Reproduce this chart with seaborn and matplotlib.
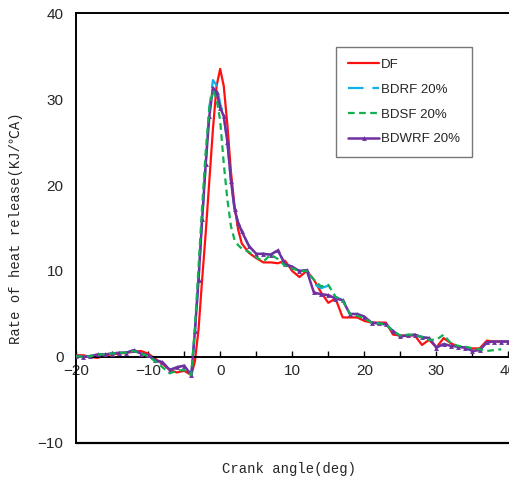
import numpy as np
import pandas as pd
import seaborn as sns
import matplotlib.pyplot as plt
from matplotlib.ticker import MultipleLocator

angle = [-20, -19, -18, -17, -16, -15, -14, -13, -12, -11, -10, -9, -8, -7, -6, -5, -4,
         -3.5, -3, -2.5, -2, -1.5, -1, -0.5, 0, 0.5, 1, 1.5, 2, 2.5, 3,
         4, 5, 6, 7, 8, 9, 10, 11, 12, 13, 14, 15, 16, 17, 18, 19, 20, 21, 22,
         23, 24, 25, 26, 27, 28, 29, 30, 31, 32, 33, 34, 35, 36, 37, 38, 39, 40]

df_hr = [0.2, 0.2, 0.0, -0.1, 0.2, 0.3, 0.4, 0.5, 0.6, 0.7, 0.4, -0.2, -0.8, -1.5, -1.8, -1.6, -2.1,
         -0.5, 3.2, 9.0, 14.5, 20.5, 26.5, 31.5, 33.5, 31.5, 27.0, 21.5, 17.5, 14.8, 13.2,
         12.1, 11.5, 11.0, 11.0, 10.9, 11.2, 10.0, 9.3, 10.0, 9.0, 7.5, 6.3, 6.8, 4.6, 4.6, 4.6, 4.2, 4.0, 4.0,
         4.0, 2.6, 2.5, 2.5, 2.5, 1.4, 2.0, 1.1, 2.2, 1.6, 1.2, 1.1, 1.0, 1.0, 1.9, 1.8, 1.8, 1.8]

bdrf = [0.1, 0.0, 0.1, 0.3, 0.3, 0.4, 0.5, 0.5, 0.8, 0.4, 0.2, -0.4, -0.6, -1.5, -1.2, -1.0, -2.1,
        3.0, 9.0, 16.0, 22.5, 29.0, 32.2, 31.6, 29.5, 28.0, 25.0, 20.5, 17.2, 15.6, 14.6,
        12.9, 12.0, 12.0, 11.9, 12.4, 10.8, 10.5, 10.0, 10.1, 8.5, 8.0, 8.3, 7.0, 6.6, 5.0, 5.0, 4.7, 4.0, 3.9,
        3.8, 3.0, 2.4, 2.5, 2.6, 2.3, 2.2, 1.1, 1.5, 1.3, 1.2, 1.1, 0.7, 0.8, 1.7, 1.8, 1.8, 1.8]

bdsf = [0.1, 0.0, 0.1, 0.3, 0.3, 0.4, 0.5, 0.5, 0.7, 0.4, 0.1, -0.5, -1.2, -1.9, -1.6, -1.5, -2.1,
        3.5, 10.5, 17.5, 24.0, 29.0, 31.0, 30.0, 27.5, 22.5, 18.3, 15.2, 13.6, 13.0, 12.6,
        12.2, 11.6, 11.1, 11.9, 11.4, 10.6, 10.3, 10.0, 10.0, 9.0, 8.2, 8.4, 7.0, 6.6, 5.0, 4.8, 4.5, 4.0, 3.9,
        3.8, 3.0, 2.5, 2.6, 2.6, 2.3, 2.0, 2.0, 2.6, 1.6, 1.3, 1.2, 1.0, 0.9, 0.7, 0.8, 0.9, np.nan]

bdwrf = [0.1, 0.0, 0.1, 0.3, 0.3, 0.4, 0.5, 0.5, 0.8, 0.4, 0.2, -0.4, -0.6, -1.5, -1.2, -1.0, -2.1,
         3.0, 9.0, 16.0, 22.5, 28.0, 31.3, 30.8, 29.0, 28.0, 25.0, 20.5, 17.2, 15.6, 14.6,
         12.9, 12.0, 12.0, 11.9, 12.4, 10.8, 10.5, 10.0, 10.1, 7.5, 7.3, 7.2, 6.8, 6.6, 5.0, 5.0, 4.7, 4.0, 3.9,
         3.8, 3.0, 2.4, 2.5, 2.6, 2.3, 2.2, 1.1, 1.5, 1.3, 1.2, 1.1, 0.7, 0.8, 1.7, 1.8, 1.8, 1.8]

sns.set_style('white')
plt.rcParams['font.family'] = ['Liberation Sans', 'DejaVu Sans']

fig = plt.figure(figsize=(5.09, 4.80), dpi=100)
ax = fig.add_axes([0.1493, 0.0771, 0.878, 0.8958])

data = pd.DataFrame({'angle': angle, 'DF': df_hr, 'BDRF 20%': bdrf,
                     'BDSF 20%': bdsf, 'BDWRF 20%': bdwrf})

sns.lineplot(data=data, x='angle', y='DF', ax=ax, color='#ff1010', lw=1.6,
             label='DF', zorder=2)
sns.lineplot(data=data, x='angle', y='BDRF 20%', ax=ax, color='#10b0e8', lw=1.6,
             label='BDRF 20%', zorder=3)
ax.lines[-1].set_dashes([7, 4])
sns.lineplot(data=data, x='angle', y='BDWRF 20%', ax=ax, color='#7030a0', lw=1.8,
             marker='^', markersize=3.5, markeredgewidth=0, label='BDWRF 20%', zorder=4)
sns.lineplot(data=data, x='angle', y='BDSF 20%', ax=ax, color='#10b050', lw=1.6,
             label='BDSF 20%', zorder=5)
ax.lines[-1].set_dashes([3, 2])

ax.set_xlim(-20, 42)
ax.set_ylim(-10, 40)

# frame: left/top spines, x axis line at y=0, plus a bottom edge at -10
ax.spines['right'].set_visible(False)
ax.spines['bottom'].set_position(('data', 0))
for s in ['left', 'top', 'bottom']:
    ax.spines[s].set_color('black')
    ax.spines[s].set_linewidth(1.4)
ax.plot([0, 1], [0, 0], transform=ax.transAxes, color='black', lw=1.6, clip_on=False)

ax.xaxis.set_major_locator(MultipleLocator(10))
ax.xaxis.set_minor_locator(MultipleLocator(5))
ax.yaxis.set_major_locator(MultipleLocator(10))
ax.tick_params(axis='x', which='both', direction='in', length=4, width=1, color='black',
               pad=5, labelsize=11, bottom=True)
ax.tick_params(axis='y', length=0, pad=9, labelsize=11)

mono = ['Liberation Mono', 'DejaVu Sans Mono', 'Noto Sans CJK KR']
ax.set_xlabel('Crank angle(deg)', family=mono, fontsize=10)
ax.set_ylabel('Rate of heat release(KJ/℃A)', family=mono, fontsize=10)
ax.xaxis.set_label_coords(0.4765, -0.044)
ax.yaxis.set_label_coords(-0.119, 0.5)

h, l = ax.get_legend_handles_labels()
order = [l.index(n) for n in ['DF', 'BDRF 20%', 'BDSF 20%', 'BDWRF 20%']]
leg = ax.legend([h[i] for i in order], [l[i] for i in order],
                loc='upper left', bbox_to_anchor=(0.5817, 0.921), borderaxespad=0,
                fontsize=9.5, frameon=True, fancybox=False, handlelength=2.4,
                handletextpad=0.1, labelspacing=0.95, borderpad=0.9)
leg.get_frame().set_edgecolor('#555555')
leg.get_frame().set_linewidth(1.0)

fig.savefig('out.png', dpi=100)
